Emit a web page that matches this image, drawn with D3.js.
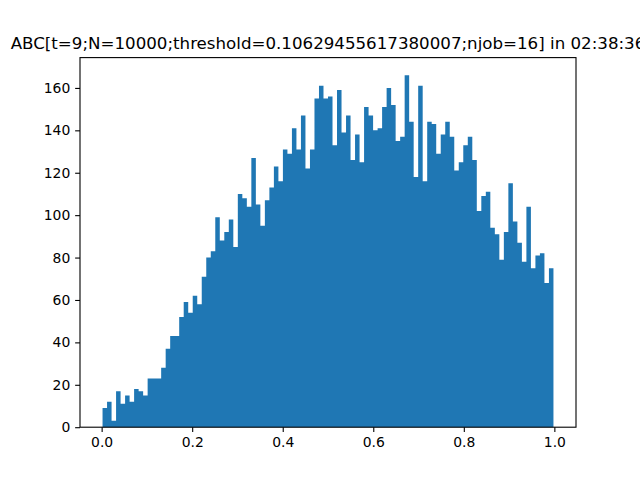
<!DOCTYPE html>
<html>
<head>
<meta charset="utf-8">
<script src="https://cdn.jsdelivr.net/npm/d3@7"></script>
<style>
  html, body { margin: 0; padding: 0; background: #fff; }
  svg { display: block; }
  text { font-family: "DejaVu Sans", sans-serif; fill: #000; }
</style>
</head>
<body>
<svg id="chart" width="640" height="480"></svg>
<script>
// ---- data ----
const titleText = "ABC[t=9;N=10000;threshold=0.10629455617380007;njob=16] in 02:38:36";
const binMin = 0.002;
const binMax = 0.998;
const binCounts = [
  9, 12, 3, 17, 11, 15, 12, 18, 17, 15,
  23, 23, 23, 28, 37, 43, 43, 52, 59, 54,
  62, 58, 71, 80, 83, 99, 88, 92, 98, 85,
  110, 108, 104, 127, 105, 95, 107, 113, 123, 116,
  131, 129, 141, 131, 147, 122, 131, 155, 161, 155,
  156, 133, 159, 139, 147, 126, 138, 125, 151, 147,
  140, 141, 151, 160, 152, 135, 137, 166, 144, 118,
  161, 116, 144, 143, 129, 138, 144, 137, 121, 125,
  133, 137, 126, 102, 109, 111, 94, 91, 79, 92,
  115, 97, 87, 78, 104, 75, 81, 82, 68, 75
];
const xTicks = [0.0, 0.2, 0.4, 0.6, 0.8, 1.0];
const yTicks = [0, 20, 40, 60, 80, 100, 120, 140, 160];

// ---- layout ----
const plotL = 80, plotR = 576, plotT = 57.6, plotB = 427.2;
const svg = d3.select("#chart");

const nb = binCounts.length;
const bw = (binMax - binMin) / nb;
const bins = binCounts.map((c, i) => ({ x0: binMin + i * bw, x1: binMin + (i + 1) * bw, count: c }));

const span = binMax - binMin;
const x = d3.scaleLinear()
  .domain([binMin - 0.05 * span, binMax + 0.05 * span])
  .range([plotL, plotR]);
const yMax = d3.max(binCounts) * 1.05;
const y = d3.scaleLinear().domain([0, yMax]).range([plotB, plotT]);

// bars: drawn as one path so adjacent bars have no antialiasing seams
const barPath = bins.map(d => {
  const x0 = x(d.x0), x1 = x(d.x1), y0 = y(0), y1 = y(d.count);
  return `M${x0},${y0}V${y1}H${x1}V${y0}Z`;
}).join("");
svg.append("path")
  .attr("d", barPath)
  .attr("fill", "#1f77b4")
  .attr("fill-rule", "nonzero");

// axes
const tickLen = 4.86;
const xAxis = d3.axisBottom(x).tickValues(xTicks).tickFormat(d3.format(".1f"))
  .tickSizeInner(tickLen).tickSizeOuter(0).tickPadding(4.86);
const yAxis = d3.axisLeft(y).tickValues(yTicks).tickFormat(d3.format("d"))
  .tickSizeInner(tickLen).tickSizeOuter(0).tickPadding(4.86);

const gx = svg.append("g").attr("transform", `translate(0,${plotB})`).call(xAxis);
const gy = svg.append("g").attr("transform", `translate(${plotL},0)`).call(yAxis);
[gx, gy].forEach(g => {
  g.select(".domain").remove();
  g.selectAll(".tick line").attr("stroke", "#000").attr("stroke-width", 1.1);
  g.selectAll(".tick text").attr("font-size", "13.9px").attr("font-family", "DejaVu Sans, sans-serif").attr("fill", "#000");
});

// spines
svg.append("rect")
  .attr("x", plotL).attr("y", plotT)
  .attr("width", plotR - plotL).attr("height", plotB - plotT)
  .attr("fill", "none").attr("stroke", "#000").attr("stroke-width", 1.1);

// title
svg.append("text")
  .attr("x", (plotL + plotR) / 2)
  .attr("y", plotT - 8.33)
  .attr("text-anchor", "middle")
  .attr("font-size", "16.67px")
  .text(titleText);
</script>
</body>
</html>
